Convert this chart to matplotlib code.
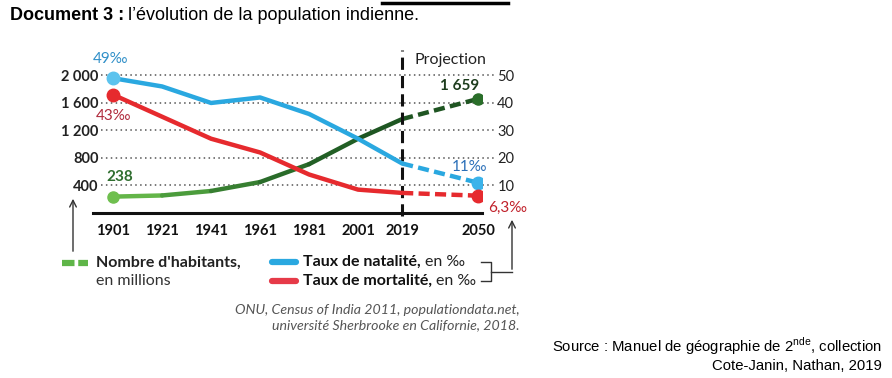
import matplotlib
matplotlib.use("Agg")
import matplotlib.pyplot as plt

# ---------------- data ----------------
years = [1901, 1921, 1941, 1961, 1981, 2001, 2019, 2050]
x_labels = ["1901", "1921", "1941", "1961", "1981", "2001", "2019", "2050"]
population = [238, 255, 320, 450, 710, 1080, 1366, 1659]       # millions
birth_rate = [49, 46, 40, 42, 36, 27, 18, 11]                  # per mille
death_rate = [43, 35, 27, 22, 14, 8.5, 7.3, 6.3]               # per mille
left_ticks = [400, 800, 1200, 1600, 2000]
left_tick_labels = ["400", "800", "1 200", "1 600", "2 000"]
right_ticks = [10, 20, 30, 40, 50]
right_tick_labels = ["10", "20", "30", "40", "50"]
projection_year = 2019

green_shades = ["#63b548", "#4b9c3c", "#377f31", "#2a6c2a", "#225f25", "#1e5622"]
BLUE = "#2aa8e0"
RED = "#e62a2e"
GREEN_DARK = "#1f5522"

CH = ["Lato", "DejaVu Sans"]
DOC = ["Liberation Sans", "DejaVu Sans"]
plt.rcParams["mathtext.fontset"] = "custom"
plt.rcParams["mathtext.rm"] = "Liberation Sans"

W, H = 892, 378
fig = plt.figure(figsize=(W / 100, H / 100), dpi=100)
fig.patch.set_facecolor("white")

def fx(px):
    return px / W

def fy(py):
    return 1 - py / H

# main axes (pixel box: x 93..482, y 50..213)
ax = fig.add_axes([fx(93), fy(213), fx(482) - fx(93), fy(50) - fy(213)])
ax2 = ax.twinx()
ymax = 2370
ax.set_ylim(0, ymax)
ax2.set_ylim(0, ymax / 40)
ax.set_xlim(1892.8, 2051.6)

for a in (ax, ax2):
    for s in ("top", "left", "right"):
        a.spines[s].set_visible(False)
    a.patch.set_visible(False)
ax2.spines["bottom"].set_visible(False)
ax.spines["bottom"].set_linewidth(2.2)
ax.spines["bottom"].set_color("#111111")

# dotted gridlines
for v in left_ticks:
    ax.axhline(v, xmin=0.02, xmax=1.03, color="#555555", lw=1.1,
               ls=(0, (1, 2.2)), clip_on=False, zorder=1)

# ticks
ax.set_xticks(years)
ax.set_xticklabels(x_labels, fontfamily=CH, fontweight="bold", fontsize=10.5, color="#111111")
ax.tick_params(axis="x", length=0, pad=8)
ax.set_yticks(left_ticks)
ax.set_yticklabels(left_tick_labels, fontfamily=CH, fontweight="bold", fontsize=10.5, color="#222222")
ax.tick_params(axis="y", length=0, pad=-4)
ax2.set_yticks(right_ticks)
ax2.set_yticklabels(right_tick_labels, fontfamily=CH, fontsize=10.5, color="#222222")
ax2.tick_params(axis="y", length=0, pad=11)

# projection line
ax.axvline(projection_year, ymin=-0.02, ymax=1.0, color="#111111", lw=2.2,
           ls=(0, (4, 2)), clip_on=False, zorder=5)
ax.text(projection_year + 5, 2225, "Projection", fontfamily=CH, fontsize=11.5,
        color="#222222", ha="left", va="center")

ip = years.index(projection_year)
LW = 3.2
# population line, shaded green segments
for i in range(ip):
    ax.plot(years[i:i + 2], population[i:i + 2], color=green_shades[i], lw=LW,
            solid_capstyle="round", zorder=3)
ax.plot(years[ip:], population[ip:], color=GREEN_DARK, lw=LW, ls=(0, (2.5, 1.2)), zorder=3)
ax.plot(years[0], population[0], "o", color="#6fbf4f", ms=8, zorder=4)
ax.plot(years[-1], population[-1], "o", color="#2a6e2a", ms=8, zorder=4)

# rates
ax2.plot(years[:ip + 1], birth_rate[:ip + 1], color=BLUE, lw=LW, solid_capstyle="round", zorder=3)
ax2.plot(years[ip:], birth_rate[ip:], color=BLUE, lw=LW, ls=(0, (2.5, 1.2)), zorder=3)
ax2.plot(years[0], birth_rate[0], "o", color="#5cc3ee", ms=9, zorder=4)
ax2.plot(years[-1], birth_rate[-1], "o", color="#3bb3ea", ms=9, zorder=4)
ax2.plot(years[:ip + 1], death_rate[:ip + 1], color=RED, lw=LW, solid_capstyle="round", zorder=3)
ax2.plot(years[ip:], death_rate[ip:], color=RED, lw=LW, ls=(0, (2.5, 1.2)), zorder=3)
ax2.plot(years[0], death_rate[0], "o", color=RED, ms=9, zorder=4)
ax2.plot(years[-1], death_rate[-1], "o", color=RED, ms=9, zorder=4)

# value annotations
ax2.annotate(f"{birth_rate[0]:g}‰", (years[0], birth_rate[0]), xytext=(-2, 14),
             textcoords="offset points", ha="center", va="center",
             fontfamily=CH, fontsize=11, color="#2f8fc8")
ax2.annotate(f"{death_rate[0]:g}‰", (years[0], death_rate[0]), xytext=(0, -15),
             textcoords="offset points", ha="center", va="center",
             fontfamily=CH, fontsize=11, color="#b02a3c")
ax.annotate(f"{population[0]}", (years[0], population[0]), xytext=(5, 14),
            textcoords="offset points", ha="center", va="center",
            fontfamily=CH, fontsize=11, fontweight="bold", color="#2f6e2f")
ax.annotate("1 659", (years[-1], population[-1]), xytext=(-13, 9.5),
            textcoords="offset points", ha="center", va="center",
            fontfamily=CH, fontsize=11, fontweight="bold", color="#1e3d1e")
ax2.annotate(f"{birth_rate[-1]:g}‰", (years[-1], birth_rate[-1]), xytext=(-6, 11),
             textcoords="offset points", ha="center", va="center",
             fontfamily=CH, fontsize=11, color="#2a6fb8")
ax2.annotate(f"{death_rate[-1]:g}‰".replace(".", ","), (years[-1], death_rate[-1]),
             xytext=(21, -9), textcoords="offset points", ha="center", va="center",
             fontfamily=CH, fontsize=11, color="#c0202a")

# ---------------- overlay in pixel coords ----------------
ov = fig.add_axes([0, 0, 1, 1], zorder=-1)
ov.set_xlim(0, W)
ov.set_ylim(H, 0)
ov.axis("off")
ov.patch.set_visible(False)

# top black line
ov.plot([382, 508], [3, 3], color="black", lw=2.5)

# legend pills
ov.plot([62, 88], [263, 263], color="#5fb548", lw=4.5, solid_capstyle="round", ls=(0, (2, 0.6)))
ov.plot([272, 296], [262, 262], color="#2aa8e0", lw=4.5, solid_capstyle="round")
ov.plot([272, 296], [281, 281], color="#e63a48", lw=4.5, solid_capstyle="round")

LEG = 11.5
ov.text(96, 263, "Nombre d'habitants,", fontfamily=CH, fontsize=LEG, fontweight="bold",
        color="#222222", va="center", ha="left")
ov.text(96, 281, "en millions", fontfamily=CH, fontsize=LEG, color="#333333",
        va="center", ha="left")
t1 = ov.text(303, 262, "Taux de natalité,", fontfamily=CH, fontsize=LEG, fontweight="bold",
             color="#111111", va="center", ha="left")
t2 = ov.text(303, 281, "Taux de mortalité,", fontfamily=CH, fontsize=LEG, fontweight="bold",
             color="#111111", va="center", ha="left")
fig.canvas.draw()
r = fig.canvas.get_renderer()
inv = ov.transData.inverted()
for t, yy in ((t1, 262), (t2, 281)):
    bb = t.get_window_extent(r)
    xe = inv.transform((bb.x1, 0))[0]
    ov.text(xe + 4, yy, "en ‰", fontfamily=CH, fontsize=LEG, color="#222222",
            va="center", ha="left")

# left arrow
ov.annotate("", xy=(73, 196), xytext=(73, 254),
            arrowprops=dict(arrowstyle="->", color="#333333", lw=1.0, mutation_scale=12))
# bracket + right arrow
ov.plot([481, 491, 491, 481], [262, 262, 281, 281], color="#333333", lw=1.0)
ov.plot([491, 512], [271.5, 271.5], color="#333333", lw=1.0)
ov.annotate("", xy=(512, 217), xytext=(512, 272),
            arrowprops=dict(arrowstyle="->", color="#333333", lw=1.0, mutation_scale=12))

# credit
ov.text(520, 310, "ONU, Census of India 2011, populationdata.net,", fontfamily=CH,
        fontsize=10.2, fontstyle="italic", color="#555555", ha="right", va="center")
ov.text(520, 325, "université Sherbrooke en Californie, 2018.", fontfamily=CH,
        fontsize=10.2, fontstyle="italic", color="#555555", ha="right", va="center")

# document texts
tt = ov.text(10, 15, "Document 3 :", fontfamily=DOC, fontsize=13, fontweight="bold",
             color="black", ha="left", va="center")
fig.canvas.draw()
bb = tt.get_window_extent(fig.canvas.get_renderer())
xe = ov.transData.inverted().transform((bb.x1, 0))[0]
ov.text(xe + 4, 15, "l’évolution de la population indienne.", fontfamily=DOC, fontsize=13,
        color="black", ha="left", va="center")
ov.text(882, 346, "Source : Manuel de géographie de 2$^{\\mathrm{nde}}$, collection",
        fontfamily=DOC, fontsize=10.7, color="black", ha="right", va="center")
ov.text(882, 366, "Cote-Janin, Nathan, 2019", fontfamily=DOC, fontsize=10.7,
        color="black", ha="right", va="center")

fig.savefig("out.png", dpi=100, facecolor="white")
